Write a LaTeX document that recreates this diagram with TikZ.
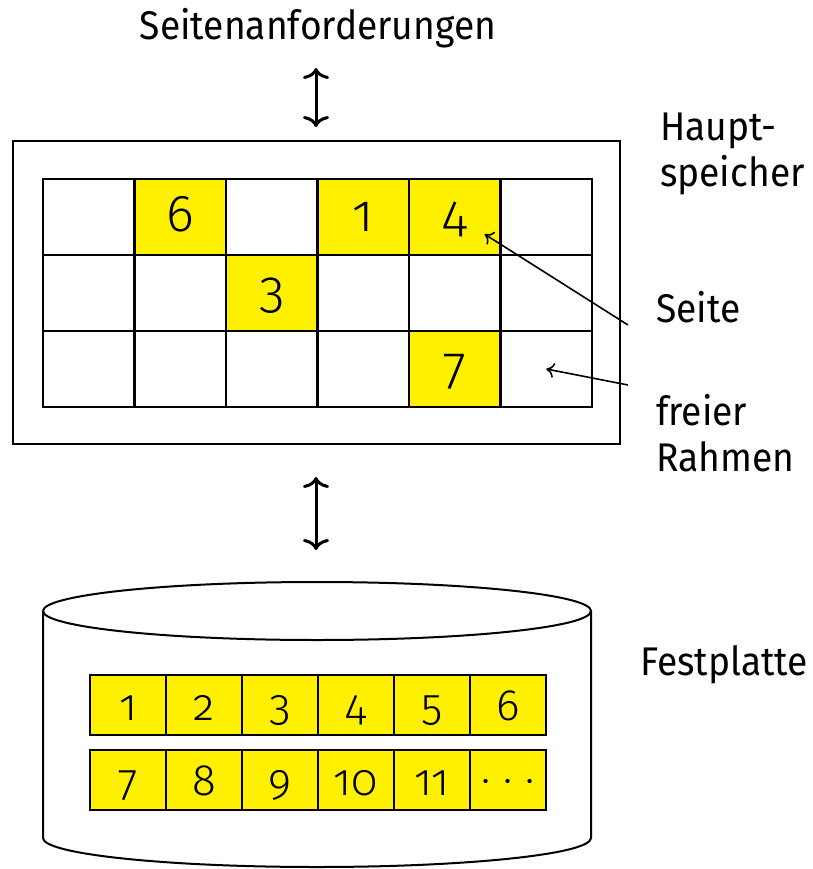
\documentclass[tikz,border=0pt]{standalone}
\usepackage{fontspec}
\setmainfont{Fira Sans}[FakeStretch=0.93]
\newfontfamily\ziffern{Fira Sans Light}[Numbers=OldStyle]
\usetikzlibrary{arrows.meta}

\definecolor{seitengelb}{RGB}{255,240,0}

\tikzset{
  zelle/.style={draw,line width=2.5pt,inner sep=0pt,minimum width=91.5pt,
    minimum height=76pt,text height=36pt,text depth=8pt,
    font=\ziffern\fontsize{52}{52}\selectfont},
  kachel/.style={draw,line width=2.5pt,fill=seitengelb,inner sep=0pt,
    minimum width=76pt,minimum height=60pt,text height=38pt,text depth=8pt,
    font=\ziffern\fontsize{44}{44}\selectfont},
  beschriftung/.style={inner sep=0pt,align=left,font=\fontsize{40}{46}\selectfont},
  doppelpfeil/.style={line width=3pt,
    {Computer Modern Rightarrow[length=11pt,width=26pt]}-{Computer Modern Rightarrow[length=11pt,width=26pt]}},
  zeiger/.style={line width=1.6pt,-{Computer Modern Rightarrow[length=8pt,width=15pt]}},
}

\begin{document}
\begin{tikzpicture}[x=1pt,y=-1pt]

\useasboundingbox (0,0) rectangle (812,869) ;

\node[beschriftung,anchor=base] (anf) at (318,40) {Seitenanforderungen} ;

% Hauptspeicher mit Rahmen
\node[draw,line width=2pt,minimum width=607pt,minimum height=303pt] (ram) at (316.5,292.5) {} ;

\foreach \r in {0,1,2}
  \foreach \c in {0,...,5}
    \node[zelle] (r-\r-\c) at ({43+91.5*(\c+0.5)},{179+76*(\r+0.5)}) {} ;

\foreach \r/\c/\s in {0/1/6,0/3/1,0/4/4,1/2/3,2/4/7}
  \node[zelle,fill=seitengelb] (seite\s) at (r-\r-\c) {\s} ;

\node[beschriftung,anchor=north west] (hs) at (660,113) {Haupt-\\speicher} ;
\node[beschriftung,anchor=base west] (seite) at (656,322) {Seite} ;
\node[beschriftung,anchor=north west] (frei) at (656,394) {freier\\Rahmen} ;

\coordinate (z1) at (628,325) ;
\coordinate (z2) at (628,385) ;
\draw[zeiger] (z1) -- ([xshift=-17pt,yshift=22pt]seite4.south east) ;
\draw[zeiger] (z2) -- (r-2-5.center) ;

% Festplatte
\draw[line width=2pt] (317,611) ellipse [x radius=274, y radius=29] ;
\draw[line width=2pt] (43,611) -- (43,838) arc[start angle=180,end angle=0,x radius=274,y radius=29] -- (591,611) ;

\foreach \s [count=\i from 0] in {1,...,6}
  \node[kachel] (d-0-\i) at ({90+76*(\i+0.5)},705) {\s} ;
\foreach \s [count=\i from 0] in {7,8,9,10,11,·\hspace{0.3em}·\hspace{0.3em}·}
  \node[kachel] (d-1-\i) at ({90+76*(\i+0.5)},780) {\s} ;

\node[beschriftung,anchor=base west] (fp) at (640,675) {Festplatte} ;

\coordinate (p1) at (316,68) ;
\coordinate (p2) at (316,127) ;
\coordinate (p3) at (316,477) ;
\coordinate (p4) at (316,550) ;
\draw[doppelpfeil] (p1) -- (p2) ;
\draw[doppelpfeil] (p3) -- (p4) ;

\end{tikzpicture}
\end{document}
